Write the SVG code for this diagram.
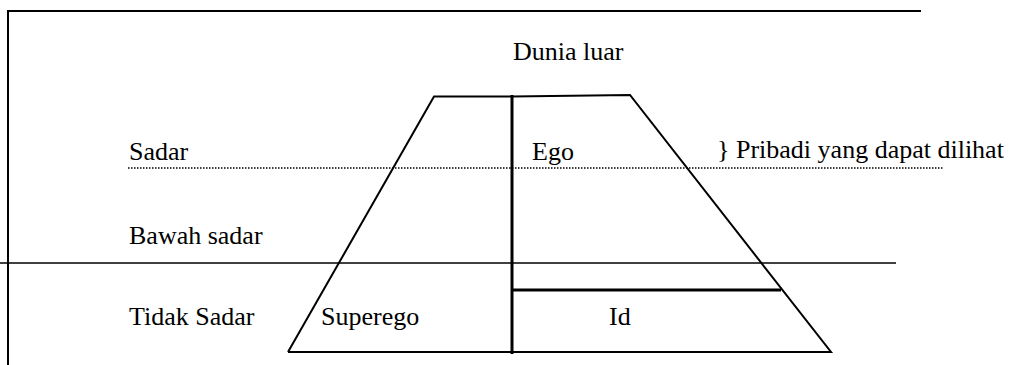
<svg xmlns="http://www.w3.org/2000/svg" width="1012" height="365" viewBox="0 0 1012 365">
<style>
text{font-family:"Liberation Serif","Times New Roman",serif;font-size:26px;fill:#000}
.ln{stroke:#000;stroke-width:2;fill:none}
.thick{stroke:#000;stroke-width:3;fill:none}
.dot{stroke:#000;stroke-width:1.5;stroke-dasharray:1.5 1.5;fill:none}
</style>
<rect width="1012" height="365" fill="#fff"/>
<g id="frame">
<line class="ln" x1="8" y1="11" x2="921" y2="11"/>
<line class="ln" x1="8" y1="10" x2="8" y2="365"/>
</g>
<g id="levels">
<line class="dot" x1="128" y1="168" x2="943" y2="168"/>
<line x1="0" y1="263" x2="896" y2="263" stroke="#000" stroke-width="1.5"/>
<text x="129" y="160">Sadar</text>
<text x="129" y="244">Bawah sadar</text>
<text x="129" y="325">Tidak Sadar</text>
<text x="513" y="60">Dunia luar</text>
<text x="717" y="158">} Pribadi yang dapat dilihat</text>
</g>
<g id="psyche">
<polyline class="ln" points="288,352 434,96.5 512,96.5 630,95 831,352 288,352"/>
<line class="thick" x1="512" y1="95" x2="512" y2="354"/>
<line class="thick" x1="512" y1="290" x2="781" y2="290"/>
<text x="532" y="160">Ego</text>
<text x="321" y="325">Superego</text>
<text x="609" y="325">Id</text>
</g>
</svg>
